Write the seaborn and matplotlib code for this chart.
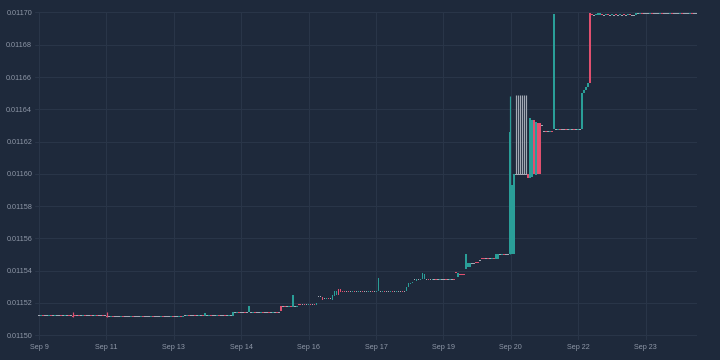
import numpy as np
import pandas as pd
import seaborn as sns
import matplotlib
matplotlib.use("Agg")
import matplotlib.pyplot as plt
from matplotlib.ticker import FormatStrFormatter, FixedLocator, MultipleLocator

# ---- data (prices in units of 1e-7) ----
opens_e7 = [
    115120,115120,115121,115120,115120,115120,115121,115120,115120,115120,115120,115121,115120,115120,115120,115121,115120,
    115120,
    115121,115120,115121,115120,115120,115121,115120,115120,115121,115120,115120,115121,115120,115120,115121,115120,
    115120,
    115115,115115,115116,115115,115115,115115,115115,115116,115115,115115,115115,115115,115116,115115,115115,
    115115,115115,115116,115115,115115,115115,115115,115116,115115,115115,115115,115115,115116,115115,115115,
    115115,115115,115116,115115,115115,115115,115116,
    115115,115120,115120,115121,115120,115120,115121,115120,115120,115120,115121,
    115120,
    115120,115120,115121,115120,115120,115120,115121,115120,115120,115121,115120,115120,115120,
    115120,
    115141,115141,115142,115141,115141,115142,115141,
    115141,
    115141,115141,115142,115141,115141,115141,115142,115141,115141,115142,115141,115141,115141,115142,115141,
    115180,
    115175,115176,115175,115175,115176,
    115175,
    115175,115175,
    115192,115191,115190,115191,115190,115190,115191,115190,115190,
    115189,
    115238,115238,
    115234,
    115228,115228,115229,115228,
    115221,115242,115250,115285,115285,
    115272,115272,115271,115272,115271,115271,115272,115271,115271,115271,115272,115271,115271,115271,115271,115272,115271,115271,
    115271,
    115271,115271,115272,115271,115271,115271,115272,115271,115271,115271,115271,115272,115271,
    115271,115296,115315,115321,115345,115335,
    115345,115345,
    115345,115345,
    115345,115346,115345,115345,115345,115346,115345,115345,115345,115345,115346,115345,115345,115345,115346,
    115391,115361,115378,115378,115378,
    115407,115423,115420,115446,115446,115453,115453,115461,115476,115476,
    115473,115474,115473,115473,115474,
    115473,115474,
    115500,115500,115501,115500,115500,
    115505,115500,115500,
    115996,115996,115996,115996,115996,115996,
    115998,115975,115980,116333,115990,116316,116316,116298,
    116260,116261,116260,116260,116261,
    116275,
    116275,116275,116276,116275,116275,116276,116275,116275,116275,116276,116275,116275,116275,
    116275,116499,116519,116540,116995,116993,
    116984,116984,116984,116984,116985,116984,116984,116985,116984,116984,116984,116985,116984,116984,116984,116985,116984,116984,116985,116984,116984,
    116984,
    116995,116995,116996,116995,116995,116995,116995,116996,116995,116995,116995,116995,116996,116995,116995,
    116995,116995,116996,116995,116995,116995,116995,116996,116995,116995,116995,116995,116996,116995,116995,
]

closes_e7 = [
    115120,115121,115120,115120,115120,115121,115120,115120,115121,115120,115120,115120,115120,115121,115120,115120,115120,
    115111,
    115120,115120,115120,115120,115121,115120,115120,115120,115120,115120,115121,115120,115120,115120,115120,115120,
    115115,
    115115,115116,115115,115115,115115,115115,115116,115115,115115,115115,115115,115116,115115,115115,115115,
    115115,115116,115115,115115,115115,115115,115116,115115,115115,115115,115115,115116,115115,115115,115115,
    115115,115116,115115,115115,115115,115116,115115,
    115120,115120,115121,115120,115120,115120,115120,115120,115121,115120,115120,
    115138,
    115120,115121,115120,115120,115120,115121,115120,115120,115120,115120,115120,115121,115120,
    115141,
    115141,115142,115141,115141,115141,115141,115141,
    115180,
    115141,115142,115141,115141,115141,115142,115141,115141,115141,115141,115141,115142,115141,115141,115141,
    115151,
    115175,115175,115175,115176,115175,
    115248,
    115175,115176,
    115190,115190,115190,115190,115190,115191,115190,115190,115189,
    115200,
    115238,115238,
    115217,
    115228,115229,115228,115228,
    115248,115273,115273,115250,115265,
    115271,115271,115271,115271,115271,115272,115271,115271,115272,115271,115271,115271,115271,115272,115271,115271,115271,115272,
    115352,
    115271,115272,115271,115271,115271,115272,115271,115271,115272,115271,115271,115271,115271,
    115296,115321,115325,115327,115345,115345,
    115345,115346,
    115383,115380,
    115345,115345,115345,115346,115345,115345,115345,115346,115345,115345,115345,115345,115346,115345,115345,
    115388,115388,115376,115376,115376,
    115500,115448,115448,115446,115446,115450,115450,115461,115473,115473,
    115473,115473,115473,115474,115473,
    115500,115500,
    115500,115501,115500,115500,115500,
    116260,115930,115996,
    115996,115996,115996,115996,115996,115996,
    115975,116347,116333,116000,116322,116000,116000,116298,
    116260,116260,116260,116261,116260,
    116990,
    116275,116276,116275,116275,116275,116275,116275,116276,116275,116275,116275,116276,116275,
    116499,116519,116540,116561,116561,116988,
    116984,116985,116995,116995,116984,116984,116985,116984,116984,116985,116984,116984,116984,116985,116984,116984,116984,116985,116984,116984,116984,
    116995,
    116995,116996,116995,116995,116995,116995,116996,116995,116995,116995,116995,116996,116995,116995,116995,
    116995,116996,116995,116995,116995,116995,116996,116995,116995,116995,116995,116996,116995,116995,116995,
]

# candles whose wicks reach beyond the body
wick_idx = [17, 34, 236, 239, 240, 241, 242, 243, 244]
wick_high_e7 = [115144, 115146, 116482, 116488, 116488, 116488, 116488, 116488, 116488]
wick_low_e7 = [115110, 115114, 115505, 115996, 115996, 115996, 115996, 115996, 115996]

tick_pos = [0, 33.75, 67.5, 101.25, 135, 168.75, 202.5, 236.25, 270, 303.75]
tick_labels = ["Sep 9", "Sep 11", "Sep 13", "Sep 14", "Sep 16", "Sep 17",
               "Sep 19", "Sep 20", "Sep 22", "Sep 23"]

assert len(opens_e7) == len(closes_e7) == 330

# ---- build frame ----
SCALE = 1e-7
df = pd.DataFrame({"idx": np.arange(len(opens_e7)),
                   "open": np.array(opens_e7) * SCALE,
                   "close": np.array(closes_e7) * SCALE})
df["high"] = df[["open", "close"]].max(axis=1)
df["low"] = df[["open", "close"]].min(axis=1)
for k, hi, lo in zip(wick_idx, wick_high_e7, wick_low_e7):
    df.loc[k, "high"] = hi * SCALE
    df.loc[k, "low"] = lo * SCALE

BG = "#1e293b"
GRID = "#2a3649"
TXT = "#8e97a7"
UP = "#2a9e98"
DOWN = "#e0506f"
NEUTRAL = "#a3a9b4"

sns.set_theme(style="darkgrid", rc={
    "axes.facecolor": BG, "figure.facecolor": BG, "grid.color": GRID,
    "grid.linewidth": 0.7, "axes.edgecolor": BG,
    "xtick.color": TXT, "ytick.color": TXT, "text.color": TXT,
})
plt.rcParams["font.family"] = ["Liberation Sans", "DejaVu Sans"]

fig = plt.figure(figsize=(7.2, 3.6), dpi=100)
ax = fig.add_axes([35 / 720, 20 / 360, 662 / 720, 328 / 360])
ax.set_facecolor(BG)

colors = np.where(df["close"] > df["open"], UP,
                  np.where(df["close"] < df["open"], DOWN, NEUTRAL))

# wicks
has_wick = (df["high"] > df[["open", "close"]].max(axis=1) + 1e-12) | \
           (df["low"] < df[["open", "close"]].min(axis=1) - 1e-12)
w = df[has_wick]
ax.vlines(w["idx"], w["low"], w["high"], colors=colors[has_wick.values],
          linewidth=0.85, zorder=2)

# bodies
min_h = 6.2e-7
body_lo = df[["open", "close"]].min(axis=1)
body_h = (df["close"] - df["open"]).abs()
mid = (df["open"] + df["close"]) / 2
bottom = np.where(body_h < min_h, mid - min_h / 2, body_lo)
height = np.maximum(body_h, min_h)
ax.bar(df["idx"], height, bottom=bottom, width=0.9, color=colors,
       linewidth=0, zorder=3)

ax.set_xlim(-2, 329.5)
ax.set_ylim(0.011497, 0.0117003)
ax.yaxis.set_major_locator(MultipleLocator(0.00002))
ax.yaxis.set_major_formatter(FormatStrFormatter("%.5f"))
ax.xaxis.set_major_locator(FixedLocator(tick_pos))
ax.set_xticklabels(tick_labels)
ax.tick_params(axis="both", length=0, labelsize=5.2, colors=TXT)
ax.tick_params(axis="y", pad=2)
ax.tick_params(axis="x", pad=3)
for s in ax.spines.values():
    s.set_visible(False)
ax.grid(True, color=GRID, linewidth=0.7)
ax.set_axisbelow(True)

fig.savefig("out.png", dpi=100, facecolor=BG)
